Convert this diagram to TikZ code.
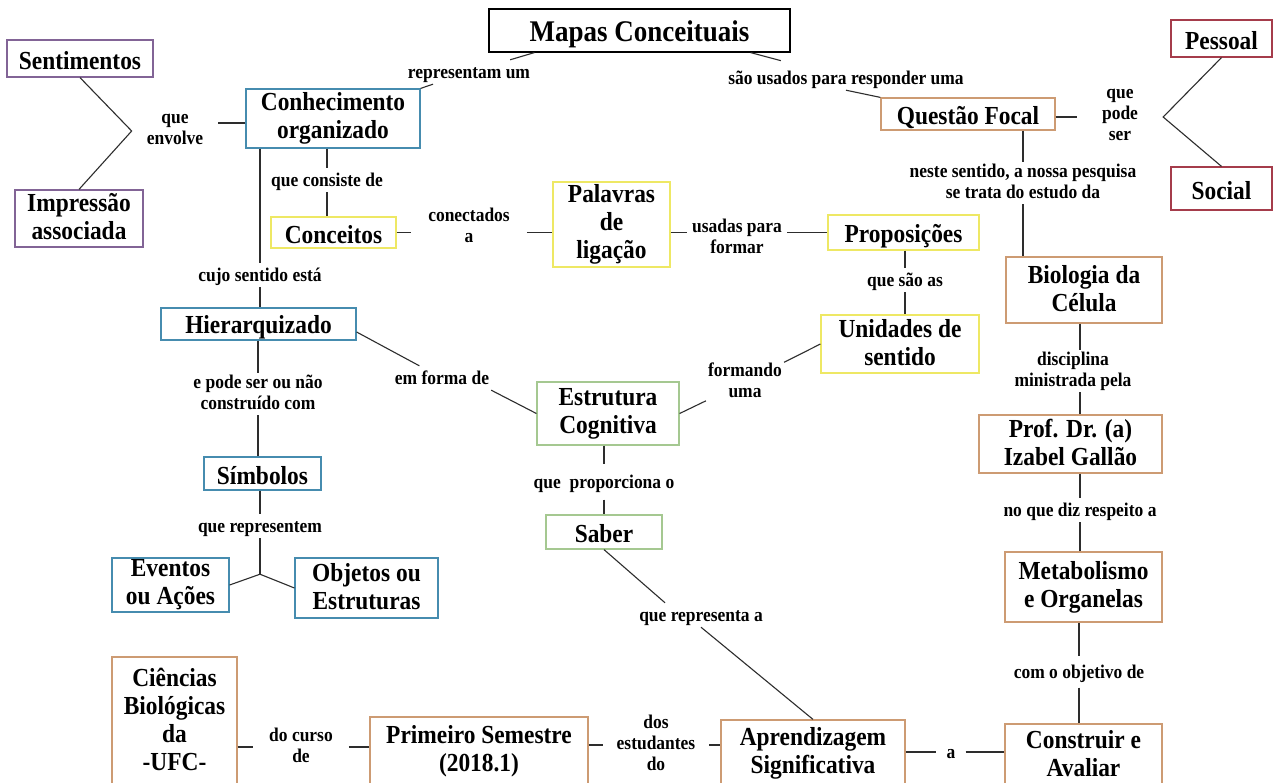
\documentclass[tikz,border=0pt]{standalone}
\usepackage{fontspec}
\setmainfont{Liberation Serif}[FakeStretch=0.9]
\usetikzlibrary{calc}
\definecolor{cpur}{RGB}{130,100,150}
\definecolor{cblu}{RGB}{70,140,175}
\definecolor{cred}{RGB}{165,60,75}
\definecolor{cyel}{RGB}{238,232,100}
\definecolor{cgrn}{RGB}{165,200,145}
\definecolor{ctan}{RGB}{205,155,115}
\definecolor{cline}{RGB}{45,45,45}
\newcommand\cfnt{\fontsize{26}{28}\selectfont\bfseries}
\newcommand\lfnt{\fontsize{19.4}{21}\selectfont\bfseries}
\newcommand\mfnt{\fontsize{30}{32}\selectfont\bfseries}
\newcommand\cstrut{\rule[-0.12\baselineskip]{0pt}{\baselineskip}}
\newcommand\lstrut{\rule[-0.2\baselineskip]{0pt}{\baselineskip}}
\begin{document}
\begin{tikzpicture}[x=1pt,y=-1pt,
  concept/.style={draw, fill=white, line width=1.2pt, font=\cfnt, align=center, inner sep=0pt,
    execute at begin node=\cstrut, execute at end node=\cstrut},
  lbl/.style={font=\lfnt, align=center, inner xsep=2pt, inner ysep=1.5pt,
    execute at begin node=\lstrut, execute at end node=\lstrut},
  conn/.style={draw=cline, line width=1.1pt}]
\useasboundingbox[fill=white] (0,0) rectangle (1274,782);

% concepts
\node[concept, draw=black, font=\mfnt, minimum width=301pt, minimum height=43pt] (mapas) at (639.5,30.5) {Mapas Conceituais};
\node[concept, draw=cpur, minimum width=146pt, minimum height=37pt] (sent) at (80,58.5) {Sentimentos};
\node[concept, draw=cpur, minimum width=128pt, minimum height=57pt] (impr) at (79,218.5) {Impressão\\associada};
\node[concept, draw=cblu, minimum width=174pt, minimum height=59pt] (conh) at (333,118.5) {Conhecimento\\organizado};
\node[concept, draw=ctan, minimum width=174pt, minimum height=32pt] (quest) at (968,114) {Questão Focal};
\node[concept, draw=cred, minimum width=101pt, minimum height=37pt] (pess) at (1221.5,38.5) {Pessoal};
\node[concept, draw=cred, minimum width=101pt, minimum height=43pt] (soc) at (1221.5,188.5) {Social};
\node[concept, draw=cyel, minimum width=117pt, minimum height=85pt] (pal) at (611.5,224.5) {Palavras\\de\\ligação};
\node[concept, draw=cyel, minimum width=125pt, minimum height=31pt] (conc) at (333.5,232.5) {Conceitos};
\node[concept, draw=cyel, minimum width=151pt, minimum height=35pt] (prop) at (903.5,232.5) {Proposições};
\node[concept, draw=ctan, minimum width=156pt, minimum height=66pt] (bio) at (1084,290) {Biologia da\\Célula};
\node[concept, draw=cblu, minimum width=195pt, minimum height=32pt] (hier) at (258.5,324) {Hierarquizado};
\node[concept, draw=cyel, minimum width=158pt, minimum height=58pt] (unid) at (900,344) {Unidades de\\sentido};
\node[concept, draw=cgrn, minimum width=142pt, minimum height=63pt] (estr) at (608,413.5) {Estrutura\\Cognitiva};
\node[concept, draw=ctan, minimum width=183pt, minimum height=58pt] (prof) at (1070.5,444) {Prof. Dr. (a)\\Izabel Gallão};
\node[concept, draw=cblu, minimum width=117pt, minimum height=33pt] (simb) at (262.5,473.5) {Símbolos};
\node[concept, draw=cgrn, minimum width=116pt, minimum height=34pt] (saber) at (604,532) {Saber};
\node[concept, draw=ctan, minimum width=157pt, minimum height=70pt] (meta) at (1083.5,587) {Metabolismo\\e Organelas};
\node[concept, draw=cblu, minimum width=117pt, minimum height=54pt] (event) at (170.5,585) {Eventos\\ou Ações};
\node[concept, draw=cblu, minimum width=143pt, minimum height=60pt] (objet) at (366.5,588) {Objetos ou\\Estruturas};
\node[concept, draw=ctan, minimum width=125pt, minimum height=128pt] (cien) at (174.5,721) {Ciências\\Biológicas\\da\\-UFC-};
\node[concept, draw=ctan, minimum width=218pt, minimum height=68pt] (prim) at (479,751) {Primeiro Semestre\\(2018.1)};
\node[concept, draw=ctan, minimum width=184pt, minimum height=66pt] (aprend) at (813,753) {Aprendizagem\\Significativa};
\node[concept, draw=ctan, minimum width=157pt, minimum height=62pt] (constr) at (1083.5,755) {Construir e\\Avaliar};

% link labels
\node[lbl] (rep) at (469,72) {representam um};
\node[lbl] (uso) at (846,78) {são usados para responder uma};
\node[lbl, inner xsep=15pt] (env) at (175,131) {que\\envolve};
\node[lbl, inner xsep=25pt] (pode) at (1120,117) {que\\pode\\ser};
\node[lbl] (cons) at (327,180) {que consiste de};
\node[lbl, inner xsep=17pt] (conect) at (469,227) {conectados\\a};
\node[lbl, inner xsep=5pt] (usad) at (737,238) {usadas para\\formar};
\node[lbl] (neste) at (1023,183) {neste sentido, a nossa pesquisa\\se trata do estudo da};
\node[lbl] (cujo) at (260,275) {cujo sentido está};
\node[lbl] (sao) at (905,280) {que são as};
\node[lbl] (epode) at (258,394) {e pode ser ou não\\construído com};
\node[lbl] (forma) at (442,378) {em forma de};
\node[lbl] (formando) at (745,382) {formando\\uma};
\node[lbl] (disc) at (1073,371) {disciplina\\ministrada pela};
\node[lbl, inner ysep=7pt] (propc) at (604,482) {que\ \ proporciona o};
\node[lbl] (diz) at (1080,510) {no que diz respeito a};
\node[lbl] (repm) at (260,526) {que representem};
\node[lbl] (repa) at (701,615) {que representa a};
\node[lbl, inner ysep=5pt] (obj) at (1079,672) {com o objetivo de};
\node[lbl, inner xsep=16pt] (curso) at (301,747) {do curso\\de};
\node[lbl, inner xsep=14pt] (dos) at (656,745) {dos\\estudantes\\do};
\node[lbl, inner xsep=10pt] (a) at (951,752) {a};
\path (repm.south) ++(0,36) coordinate (j3);

% connectors
\draw[conn] ($(mapas.south west)+(46,0)$) -- (rep);
\draw[conn] (conh.north east) -- (rep);
\draw[conn, shorten >=20pt] ($(mapas.south east)+(-40,0)$) -- (uso);
\draw[conn] (uso.south) -- (quest.north west);
\draw[conn] ([yshift=-4.5pt]conh.west) -- ([yshift=-4.5pt]conh.west -| env.east);
\draw[conn] (sent.south) -- (env.west) -- (impr.north);
\draw[conn] (pode.west -| quest.east) -- (pode.west);
\draw[conn] (pess.south) -- (pode.east) -- (soc.north);
\draw[conn] (conh.south -| cons) -- (cons.north);
\draw[conn] (cons.south) -- (cons |- conc.north);
\draw[conn] (conh.south -| cujo) -- (cujo.north);
\draw[conn] (cujo.south) -- (cujo |- hier.north);
\draw[conn] (conc.east) -- (conc.east -| conect.west);
\draw[conn] (conect.east |- conc.east) -- (pal.west |- conc.east);
\draw[conn] (pal.east |- prop.west) -- (usad.west |- prop.west);
\draw[conn] (usad.east |- prop.west) -- (prop.west);
\draw[conn] (quest.south -| neste) -- (neste.north);
\draw[conn] (neste.south) -- (neste |- bio.north);
\draw[conn] (prop.south -| sao) -- (sao.north);
\draw[conn] (sao.south) -- (sao |- unid.north);
\draw[conn] (hier.south -| epode) -- (epode.north);
\draw[conn] (epode.south) -- (epode |- simb.north);
\draw[conn] ([yshift=-8pt]hier.east) -- (forma);
\draw[conn] (forma.south east) -- (estr.west);
\draw[conn] (unid.west) -- (formando);
\draw[conn] (formando) -- (estr.east);
\draw[conn] (bio.south -| diz) -- (diz |- disc.north);
\draw[conn] (diz |- disc.south) -- (diz |- prof.north);
\draw[conn] (estr.south -| propc) -- (propc.north);
\draw[conn] (propc.south) -- (propc |- saber.north);
\draw[conn] (prof.south -| diz) -- (diz.north);
\draw[conn] (diz.south) -- (diz |- meta.north);
\draw[conn] (simb.south -| repm) -- (repm.north);
\draw[conn] (repm.south) -- (j3);
\draw[conn] (event.east) -- (j3) -- (objet.west);
\draw[conn] (saber.south) -- ([xshift=28pt]repa.north west);
\draw[conn] (repa.south) -- (aprend.north);
\draw[conn] (meta.south -| obj) -- (obj.north);
\draw[conn] (obj.south) -- (obj |- constr.north);
\draw[conn] (cien.east |- curso) -- (curso.west);
\draw[conn] (curso.east) -- (prim.west |- curso);
\draw[conn] (prim.east |- dos) -- (dos.west);
\draw[conn] (dos.east) -- (aprend.west |- dos);
\draw[conn] (aprend.east |- a) -- (a.west);
\draw[conn] (a.east) -- (constr.west |- a);
\end{tikzpicture}
\end{document}
